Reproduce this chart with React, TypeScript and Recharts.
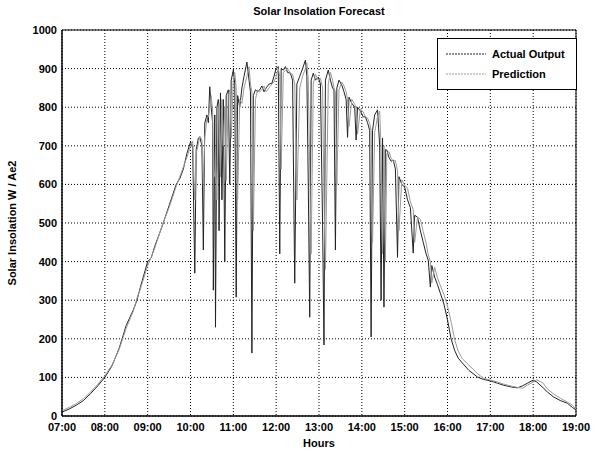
import { CartesianGrid, Legend, Line, LineChart, ReferenceArea, XAxis, YAxis } from "recharts";

const TIMES = [
  "07:00", "07:10", "07:20", "07:30", "07:40", "07:50", "08:00", "08:10", "08:20", "08:30",
  "08:40", "08:45", "08:50", "09:00", "09:05", "09:10", "09:20", "09:30", "09:40", "09:45",
  "09:50", "09:55", "10:00", "10:03", "10:06", "10:08", "10:11", "10:13", "10:16", "10:18",
  "10:20", "10:23", "10:25", "10:27", "10:29", "10:31", "10:32", "10:34", "10:35", "10:37",
  "10:39", "10:40", "10:42", "10:44", "10:46", "10:48", "10:50", "10:53", "10:55", "10:57",
  "11:00", "11:02", "11:04", "11:06", "11:09", "11:12", "11:15", "11:19", "11:22", "11:24",
  "11:26", "11:28", "11:31", "11:34", "11:37", "11:40", "11:43", "11:46", "11:50", "11:54",
  "11:57", "12:00", "12:03", "12:05", "12:07", "12:10", "12:13", "12:16", "12:20", "12:23",
  "12:26", "12:29", "12:33", "12:37", "12:41", "12:43", "12:45", "12:47", "12:49", "12:52",
  "12:55", "12:59", "13:02", "13:05", "13:07", "13:09", "13:13", "13:16", "13:19", "13:21",
  "13:23", "13:25", "13:28", "13:32", "13:35", "13:38", "13:40", "13:42", "13:46", "13:50",
  "13:52", "13:54", "13:58", "14:02", "14:05", "14:08", "14:11", "14:13", "14:15", "14:18",
  "14:22", "14:25", "14:27", "14:29", "14:31", "14:33", "14:35", "14:38", "14:41", "14:44",
  "14:47", "14:50", "14:52", "14:56", "15:00", "15:04", "15:08", "15:12", "15:14", "15:18",
  "15:22", "15:26", "15:30", "15:33", "15:36", "15:38", "15:42", "15:46", "15:50", "15:55",
  "16:00", "16:05", "16:10", "16:15", "16:21", "16:30", "16:42", "16:50", "17:00", "17:10",
  "17:18", "17:30", "17:38", "17:45", "17:52", "18:00", "18:05", "18:14", "18:20", "18:28",
  "18:38", "18:48", "18:55", "19:00",
];

// measured output, W/m2
const ACTUAL = [
  10, 18, 28, 40, 58, 78, 100, 130, 175, 235,
  275, 300, 335, 400, 410, 440, 490, 545, 600, 615,
  640, 680, 710, 700, 370, 690, 720, 723, 700, 430,
  759, 780, 760, 853, 800, 760, 326, 780, 230, 800,
  820, 480, 837, 560, 820, 400, 830, 845, 600, 870,
  896, 860, 308, 830, 800, 850, 880, 917, 870, 840,
  163, 830, 845, 840, 845, 855, 840, 850, 860, 862,
  880, 901, 905, 420, 900, 896, 905, 890, 888, 870,
  344, 860, 880, 900, 922, 880, 600, 256, 870, 888,
  870, 878, 860, 500, 184, 870, 896, 870, 850, 845,
  430, 850, 870, 857, 840, 820, 722, 826, 810, 800,
  715, 800, 790, 775, 775, 760, 740, 205, 740, 780,
  793, 700, 300, 720, 282, 690, 689, 670, 660, 663,
  640, 411, 620, 600, 593, 560, 540, 422, 520, 515,
  480, 450, 420, 404, 334, 390, 360, 340, 318, 290,
  249, 200, 170, 150, 137, 118, 101, 95, 91, 85,
  80, 75, 73, 78, 85, 93, 88, 73, 62, 50,
  40, 33, 22, 16,
];

// forecast (lags the dips by one step)
const PREDICTION = [
  14, 22, 32, 45, 62, 82, 104, 132, 172, 228,
  272, 305, 330, 390, 412, 435, 492, 540, 595, 620,
  645, 670, 700, 712, 560, 680, 705, 725, 715, 600,
  720, 770, 775, 800, 830, 790, 640, 620, 700, 560,
  780, 810, 620, 820, 700, 800, 610, 830, 845, 720,
  870, 890, 850, 560, 820, 810, 850, 880, 905, 860,
  840, 480, 820, 845, 840, 845, 855, 840, 850, 860,
  865, 880, 900, 880, 640, 890, 895, 900, 888, 885,
  860, 560, 850, 880, 900, 915, 870, 640, 420, 860,
  885, 870, 875, 850, 560, 380, 860, 890, 870, 850,
  840, 600, 845, 865, 855, 840, 820, 750, 820, 808,
  798, 730, 795, 788, 775, 772, 758, 740, 450, 735,
  775, 790, 690, 420, 700, 400, 680, 685, 668, 660,
  662, 635, 480, 612, 598, 590, 555, 535, 450, 515,
  510, 478, 448, 418, 400, 345, 385, 358, 338, 315,
  285, 245, 198, 168, 148, 132, 110, 98, 93, 88,
  83, 77, 74, 72, 80, 88, 94, 85, 70, 58,
  46, 36, 28, 18,
];

const HOUR_TICKS = [7, 8, 9, 10, 11, 12, 13, 14, 15, 16, 17, 18, 19];
const VALUE_TICKS = [0, 100, 200, 300, 400, 500, 600, 700, 800, 900, 1000];

const FONT = "'Liberation Sans', Arial, sans-serif";

const toHours = (t: string) => {
  const [h, m] = t.split(":").map(Number);
  return h + m / 60;
};

const data = TIMES.map((t, i) => ({
  hour: toHours(t),
  actual: ACTUAL[i],
  prediction: PREDICTION[i],
}));

const LegendBox = () => (
  <div
    style={{
      border: "1px solid #000",
      background: "#fff",
      padding: "5px 8px",
      fontFamily: FONT,
      fontSize: 11,
      fontWeight: "bold",
      color: "#000",
    }}
  >
    {[
      { label: "Actual Output", color: "#222" },
      { label: "Prediction", color: "#9a9a9a" },
    ].map((item) => (
      <div key={item.label} style={{ display: "flex", alignItems: "center", height: 20 }}>
        <svg width={40} height={6} style={{ marginRight: 6 }}>
          <line x1={0} y1={3} x2={40} y2={3} stroke={item.color} strokeWidth={1} strokeDasharray="2 1" />
        </svg>
        <span>{item.label}</span>
      </div>
    ))}
  </div>
);

export default function App() {
  return (
    <div style={{ position: "absolute", left: 0, top: 0, width: 602, height: 453, background: "#fff" }}>
      <LineChart width={602} height={453} data={data} margin={{ top: 30, right: 26, left: 0, bottom: 0 }}>
        <CartesianGrid stroke="#000" strokeDasharray="1 2" />
        <XAxis
          dataKey="hour"
          type="number"
          domain={[7, 19]}
          ticks={HOUR_TICKS}
          tickFormatter={(v: number) => `${String(v).padStart(2, "0")}:00`}
          height={37}
          tickSize={3}
          tickMargin={4}
          tickLine={false}
          axisLine={{ stroke: "#000" }}
          tick={{ fontSize: 11, fontFamily: FONT, fontWeight: "bold", fill: "#000" }}
          interval={0}
        />
        <YAxis
          type="number"
          domain={[0, 1000]}
          ticks={VALUE_TICKS}
          width={62}
          tickSize={3}
          tickMargin={2}
          tickLine={false}
          axisLine={{ stroke: "#000" }}
          tick={{ fontSize: 11, fontFamily: FONT, fontWeight: "bold", fill: "#000" }}
          interval={0}
        />
        <ReferenceArea x1={7} x2={19} y1={0} y2={1000} fill="none" stroke="#000" strokeWidth={1} />
        <Line
          type="linear"
          dataKey="actual"
          stroke="#222"
          strokeWidth={1}
          dot={false}
          isAnimationActive={false}
          name="Actual Output"
        />
        <Line
          type="linear"
          dataKey="prediction"
          stroke="#9a9a9a"
          strokeWidth={1}
          dot={false}
          isAnimationActive={false}
          name="Prediction"
        />
        <Legend
          layout="vertical"
          align="center"
          verticalAlign="middle"
          content={<LegendBox />}
          wrapperStyle={{ top: 38, left: 437, width: 140 }}
        />
      </LineChart>
      <div
        style={{
          position: "absolute",
          top: 5,
          left: 62,
          width: 514,
          textAlign: "center",
          fontFamily: FONT,
          fontSize: 11,
          fontWeight: "bold",
        }}
      >
        Solar Insolation Forecast
      </div>
      <div
        style={{
          position: "absolute",
          top: 437,
          left: 62,
          width: 514,
          textAlign: "center",
          fontFamily: FONT,
          fontSize: 11,
          fontWeight: "bold",
        }}
      >
        Hours
      </div>
      <div
        style={{
          position: "absolute",
          left: 12,
          top: 223,
          transform: "translate(-50%, -50%) rotate(-90deg)",
          whiteSpace: "nowrap",
          fontFamily: FONT,
          fontSize: 11,
          fontWeight: "bold",
        }}
      >
        Solar Insolation W / Ae2
      </div>
    </div>
  );
}
